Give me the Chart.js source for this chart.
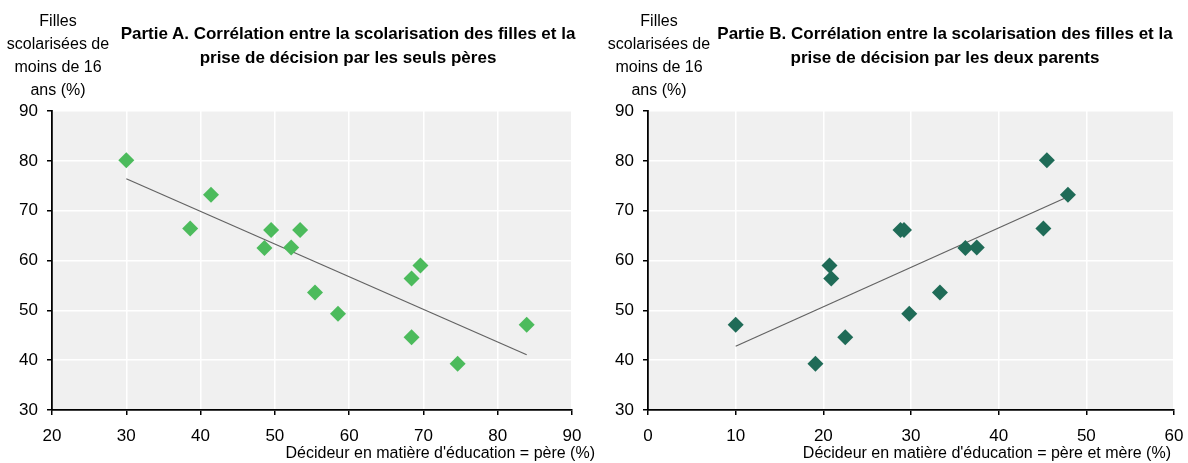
<!DOCTYPE html>
<html>
<head>
<meta charset="utf-8">
<script src="https://cdn.jsdelivr.net/npm/chart.js@4/dist/chart.umd.min.js"></script>
<style>
  html, body { margin:0; padding:0; background:#fff; }
  body { width:1188px; height:463px; position:relative; overflow:hidden;
         font-family:'Liberation Sans Narrow','Arial Narrow','Liberation Sans',Arial,sans-serif; color:#000; }
  .cv { position:absolute; top:0; }
  .ytitle { position:absolute; top:9px; width:120px; text-align:center; font-size:16px; line-height:23px; }
  .ctitle { position:absolute; top:22px; width:480px; text-align:center; font-size:17px; line-height:24px; font-weight:bold; }
  .xtitle { position:absolute; top:442px; font-size:16px; line-height:22px; white-space:nowrap; text-align:right; }
</style>
</head>
<body>
<div class="cv" style="left:0;width:594px;height:463px;"><canvas id="cA" width="594" height="463"></canvas></div>
<div class="cv" style="left:594px;width:601px;height:463px;"><canvas id="cB" width="601" height="463"></canvas></div>

<div class="ytitle" style="left:-2px;">Filles<br>scolarisées de<br>moins de 16<br>ans (%)</div>
<div class="ctitle" style="left:108px;">Partie A. Corrélation entre la scolarisation des filles et la<br>prise de décision par les seuls pères</div>
<div class="xtitle" style="right:593px;">Décideur en matière d'éducation = père (%)</div>

<div class="ytitle" style="left:599px;">Filles<br>scolarisées de<br>moins de 16<br>ans (%)</div>
<div class="ctitle" style="left:705px;">Partie B. Corrélation entre la scolarisation des filles et la<br>prise de décision par les deux parents</div>
<div class="xtitle" style="right:17px;">Décideur en matière d'éducation = père et mère (%)</div>

<script>
// ---- Data ----
const girlsEnrolled = [80.1, 66.4, 73.2, 62.5, 66.1, 62.6, 66.1, 53.6, 49.3, 56.4, 59.0, 44.6, 39.3, 47.1];
const fatherOnly    = [30.0, 38.6, 41.4, 48.6, 49.5, 52.2, 53.4, 55.4, 58.5, 68.4, 69.6, 68.4, 74.6, 83.9];
const bothParents   = [45.5, 45.1, 47.9, 36.2, 28.8, 37.5, 29.2, 33.3, 29.8, 20.9, 20.7, 22.5, 19.1, 10.0];
const trendAX = [30.0, 83.9];
const trendAY = [76.4, 41.1];
const trendBX = [10.0, 47.9];
const trendBY = [42.8, 72.8];
const yTicks  = [30, 40, 50, 60, 70, 80, 90];
const xTicksA = [20, 30, 40, 50, 60, 70, 80, 90];
const xTicksB = [0, 10, 20, 30, 40, 50, 60];

const FONT = "'Liberation Sans Narrow','Arial Narrow','Liberation Sans',Arial,sans-serif";
Chart.defaults.color = '#000';
Chart.defaults.font.family = FONT;
Chart.defaults.font.size = 17;

const bgPlugin = {
  id: 'plotBg',
  beforeDraw(chart) {
    const {ctx, chartArea: a} = chart;
    ctx.save();
    ctx.fillStyle = '#f0f0f0';
    ctx.fillRect(a.left, a.top, a.right - a.left, a.bottom - a.top);
    ctx.restore();
  }
};

function pts(xs, ys) { return xs.map((x, i) => ({x: x, y: ys[i]})); }

function makeChart(id, xs, color, tx, ty, xTicks, yAxisW, padRight) {
  const xmin = xTicks[0], xmax = xTicks[xTicks.length - 1];
  return new Chart(document.getElementById(id), {
    type: 'scatter',
    data: {
      datasets: [
        { type: 'scatter', data: pts(xs, girlsEnrolled), pointStyle: 'rectRot', pointRadius: 8,
          backgroundColor: color, borderColor: color, borderWidth: 0, order: 0 },
        { type: 'line', data: pts(tx, ty), borderColor: '#626262', borderWidth: 1.2,
          pointRadius: 0, fill: false, order: 1 }
      ]
    },
    options: {
      responsive: false, animation: false, events: [],
      layout: { padding: { top: 111, right: padRight, left: 0, bottom: 0 } },
      plugins: { legend: { display: false }, tooltip: { enabled: false }, title: { display: false } },
      scales: {
        x: {
          type: 'linear', min: xmin, max: xmax,
          afterBuildTicks: s => { s.ticks = xTicks.map(v => ({value: v})); },
          afterFit: s => { s.height = 53; },
          grid: { color: '#ffffff', lineWidth: 1.5, tickColor: '#000', tickLength: 5 },
          border: { color: '#000', width: 1.8 },
          ticks: { padding: 11, maxRotation: 0, autoSkip: false }
        },
        y: {
          type: 'linear', min: 30, max: 90,
          afterBuildTicks: s => { s.ticks = yTicks.map(v => ({value: v})); },
          afterFit: s => { s.width = yAxisW; },
          grid: { color: '#ffffff', lineWidth: 1.5, tickColor: '#000', tickLength: 5 },
          border: { color: '#000', width: 1.8 },
          ticks: { padding: 9, autoSkip: false }
        }
      }
    },
    plugins: [bgPlugin]
  });
}

makeChart('cA', fatherOnly, '#4cbb5c', trendAX, trendAY, xTicksA, 52, 22);
makeChart('cB', bothParents, '#1f6b57', trendBX, trendBY, xTicksB, 54, 21);
</script>
</body>
</html>
